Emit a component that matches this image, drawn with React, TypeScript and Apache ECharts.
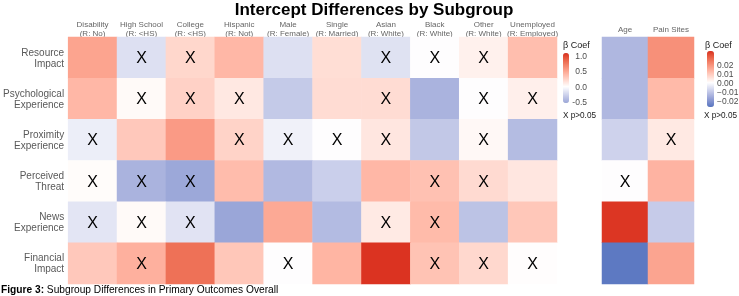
import React, { useEffect, useRef } from "react";
import * as echarts from "echarts";

const rowLabels = [
  "Resource\nImpact",
  "Psychological\nExperience",
  "Proximity\nExperience",
  "Perceived\nThreat",
  "News\nExperience",
  "Financial\nImpact",
];
const leftCols = [
  "Disability\n(R: No)",
  "High School\n(R: <HS)",
  "College\n(R: <HS)",
  "Hispanic\n(R: Not)",
  "Male\n(R: Female)",
  "Single\n(R: Married)",
  "Asian\n(R: White)",
  "Black\n(R: White)",
  "Other\n(R: White)",
  "Unemployed\n(R: Employed)",
];
const rightCols = ["Age", "Pain Sites"];

// beta coefficients, one array per outcome row (left panel)
const resourceImpact = [0.52, -0.18, 0.23, 0.41, -0.18, 0.19, -0.17, 0.0, 0.08, 0.37];
const psychologicalExp = [0.41, 0.03, 0.26, 0.13, -0.31, 0.2, 0.2, -0.45, 0.0, 0.09];
const proximityExp = [-0.1, 0.31, 0.57, 0.25, -0.08, 0.0, 0.14, -0.32, 0.04, -0.39];
const perceivedThreat = [0.02, -0.45, -0.52, 0.38, -0.41, -0.28, 0.41, 0.35, 0.21, 0.14];
const newsExp = [-0.15, 0.03, -0.16, -0.53, 0.49, -0.4, 0.12, 0.39, -0.35, 0.32];
const financialImpact = [0.31, 0.45, 0.8, 0.32, 0.0, 0.42, 1.08, 0.34, 0.22, 0.01];
const leftValues = [resourceImpact, psychologicalExp, proximityExp, perceivedThreat, newsExp, financialImpact];

// 1 = p > 0.05 (marked X)
const leftNS = [
  [0, 1, 1, 0, 0, 0, 1, 1, 1, 0],
  [0, 1, 1, 1, 0, 0, 1, 0, 1, 1],
  [1, 0, 0, 1, 1, 1, 1, 0, 1, 0],
  [1, 1, 1, 0, 0, 0, 0, 1, 1, 0],
  [1, 1, 1, 0, 0, 0, 1, 1, 0, 0],
  [0, 1, 0, 0, 1, 0, 0, 1, 1, 1],
];

// right panel: Age and Pain Sites per row
const ageValues = [-0.0134, -0.0135, -0.0083, 0.0, 0.034, -0.026];
const painValues = [0.02, 0.0126, 0.004, 0.0137, -0.0096, 0.0165];
const ageNS = [0, 0, 0, 1, 0, 0];
const painNS = [0, 0, 1, 0, 0, 0];

const leftTicks = ["1.0", "0.5", "0.0", "-0.5"];
const leftTickVals = [1.0, 0.5, 0.0, -0.5];
const rightTicks = ["0.02", "0.01", "0.00", "\u22120.01", "\u22120.02"];
const rightTickVals = [0.02, 0.01, 0.0, -0.01, -0.02];

const FONT = "Liberation Sans, Arial, Helvetica, sans-serif";
const RED_LAB = [48, 64, 51];
const BLUE_LAB = [35, 15, -56];
const WHITE_LAB = [100, 0, 0];

function fromLin(c: number) {
  const v = c <= 0.0031308 ? 12.92 * c : 1.055 * Math.pow(c, 1 / 2.4) - 0.055;
  return Math.max(0, Math.min(255, Math.round(v * 255)));
}
const WX = 0.95047, WY = 1.0, WZ = 1.08883;
function lab2rgb(lab: number[]) {
  const fy = (lab[0] + 16) / 116;
  const fx = fy + lab[1] / 500;
  const fz = fy - lab[2] / 200;
  const inv = (t: number) => (t * t * t > 0.008856 ? t * t * t : (t - 16 / 116) / 7.787);
  const x = inv(fx) * WX, y = inv(fy) * WY, z = inv(fz) * WZ;
  const r = x * 3.2406 + y * -1.5372 + z * -0.4986;
  const g = x * -0.9689 + y * 1.8758 + z * 0.0415;
  const b = x * 0.0557 + y * -0.204 + z * 1.057;
  return [fromLin(r), fromLin(g), fromLin(b)];
}

function colorFor(v: number, M: number) {
  const t = Math.min(1, Math.abs(v) / M);
  const e = v >= 0 ? RED_LAB : BLUE_LAB;
  const lab = WHITE_LAB.map((w, i) => w + (e[i] - w) * t);
  const c = lab2rgb(lab);
  return `rgb(${c[0]},${c[1]},${c[2]})`;
}
function stops(min: number, max: number, M: number) {
  const n = 64;
  const out: string[] = [];
  for (let i = 0; i <= n; i++) out.push(colorFor(min + ((max - min) * i) / n, M));
  return out;
}

export default function App() {
  const ref = useRef<HTMLDivElement>(null);
  useEffect(() => {
    if (!ref.current) return;
    const chart = echarts.init(ref.current, null, { renderer: "svg" });

    const L_MIN = -0.53, L_MAX = 1.1, L_M = 1.1;
    const R_MIN = -0.027, R_MAX = 0.035, R_M = 0.035;
    const L_TOP = 53, L_H = 50;
    const R_TOP = 51, R_H = 56;

    const leftData: any[] = [];
    leftValues.forEach((row, r) =>
      row.forEach((v, c) => leftData.push([c, r, v, leftNS[r][c]]))
    );
    const rightData: any[] = [];
    ageValues.forEach((v, r) => rightData.push([0, r, v, ageNS[r]]));
    painValues.forEach((v, r) => rightData.push([1, r, v, painNS[r]]));

    const lbl = {
      show: true,
      formatter: (p: any) => (p.data[3] ? "X" : ""),
      fontSize: 16,
      color: "#000",
      fontFamily: FONT,
    };

    const tickText = (vals: number[], texts: string[], top: number, h: number, min: number, max: number, x: number, align: string) =>
      vals.map((v, i) => ({
        type: "text",
        x,
        y: top + (h * (max - v)) / (max - min),
        style: {
          text: texts[i],
          fontSize: 8.5,
          fontFamily: FONT,
          fill: "#4d4d4d",
          textAlign: align,
          textVerticalAlign: "middle",
        },
      }));

    chart.setOption({
      animation: false,
      grid: [
        { left: 66, top: 37, width: 491, height: 247 },
        { left: 602, top: 37, width: 92, height: 247 },
      ],
      xAxis: [
        {
          type: "category", gridIndex: 0, data: leftCols, position: "top",
          axisLine: { show: false }, axisTick: { show: false }, splitLine: { show: false },
          axisLabel: { fontSize: 8, lineHeight: 9, color: "#666", fontFamily: FONT, margin: -1, interval: 0 },
        },
        {
          type: "category", gridIndex: 1, data: rightCols, position: "top",
          axisLine: { show: false }, axisTick: { show: false }, splitLine: { show: false },
          axisLabel: { fontSize: 8, lineHeight: 9, color: "#666", fontFamily: FONT, margin: 3, interval: 0 },
        },
      ],
      yAxis: [
        {
          type: "category", gridIndex: 0, data: rowLabels, inverse: true,
          axisLine: { show: false }, axisTick: { show: false }, splitLine: { show: false },
          axisLabel: { fontSize: 10, lineHeight: 11, color: "#595959", fontFamily: FONT, margin: 4, align: "right" },
        },
        {
          type: "category", gridIndex: 1, data: rowLabels, inverse: true,
          axisLine: { show: false }, axisTick: { show: false }, splitLine: { show: false },
          axisLabel: { show: false },
        },
      ],
      visualMap: [
        {
          type: "continuous", seriesIndex: 0, dimension: 2, min: L_MIN, max: L_MAX,
          calculable: false, inRange: { color: stops(L_MIN, L_MAX, L_M) },
          itemWidth: 6, itemHeight: L_H, left: 563, top: L_TOP, padding: 0,
          hoverLink: false,
        },
        {
          type: "continuous", seriesIndex: 1, dimension: 2, min: R_MIN, max: R_MAX,
          calculable: false, inRange: { color: stops(R_MIN, R_MAX, R_M) },
          itemWidth: 7, itemHeight: R_H, left: 707, top: R_TOP, padding: 0,
          hoverLink: false,
        },
      ],
      series: [
        {
          type: "heatmap", xAxisIndex: 0, yAxisIndex: 0, data: leftData,
          label: lbl, emphasis: { disabled: true },
        },
        {
          type: "heatmap", xAxisIndex: 1, yAxisIndex: 1, data: rightData,
          label: lbl, emphasis: { disabled: true },
        },
      ],
      graphic: [
        {
          type: "text", x: 374, y: 9,
          style: { text: "Intercept Differences by Subgroup", fontSize: 17, lineHeight: 17, fontWeight: "bold", fontFamily: FONT, fill: "#000", textAlign: "center", textVerticalAlign: "middle" },
        },
        {
          type: "text", x: 1, y: 289.5,
          style: {
            text: "{b|Figure 3:} Subgroup Differences in Primary Outcomes Overall",
            fontSize: 10.2, fontFamily: FONT, fill: "#000", textVerticalAlign: "middle",
            rich: { b: { fontWeight: "bold", fontSize: 10.2, fontFamily: FONT, fill: "#000" } },
          },
        },
        { type: "text", x: 563, y: 45, style: { text: "\u03b2 Coef", fontSize: 9, fontFamily: FONT, fill: "#1a1a1a", textVerticalAlign: "middle" } },
        { type: "text", x: 563, y: 115, style: { text: "X p>0.05", fontSize: 8.2, fontFamily: FONT, fill: "#1a1a1a", textVerticalAlign: "middle" } },
        { type: "text", x: 705, y: 45, style: { text: "\u03b2 Coef", fontSize: 9, fontFamily: FONT, fill: "#1a1a1a", textVerticalAlign: "middle" } },
        { type: "text", x: 704, y: 115, style: { text: "X p>0.05", fontSize: 8.2, fontFamily: FONT, fill: "#1a1a1a", textVerticalAlign: "middle" } },
        ...tickText(leftTickVals, leftTicks, L_TOP, L_H, L_MIN, L_MAX, 587, "right"),
        ...tickText(rightTickVals, rightTicks, R_TOP, R_H, R_MIN, R_MAX, 717, "left"),
      ],
    });
    return () => chart.dispose();
  }, []);
  return <div ref={ref} style={{ position: "fixed", left: 0, top: 0, width: 739, height: 296 }} />;
}
